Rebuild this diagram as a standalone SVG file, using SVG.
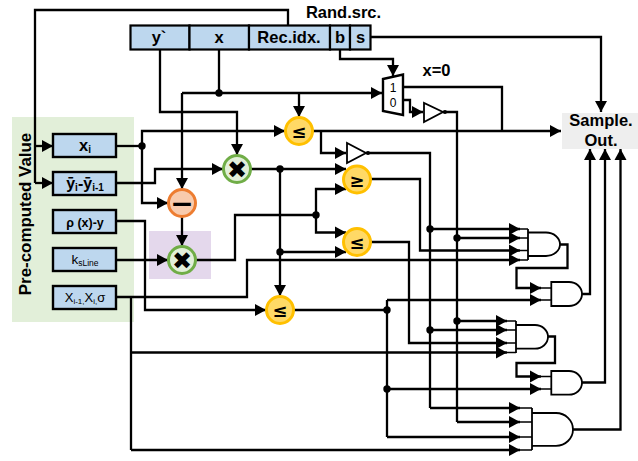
<svg xmlns="http://www.w3.org/2000/svg" width="638" height="461" viewBox="0 0 638 461">
  <style>
    text { font-family: "Liberation Sans", Arial, sans-serif; fill: #000; text-anchor: middle; }
    .b { font-weight: bold; }
    .field { fill: #bdd7ee; stroke: #000; stroke-width: 2.200; }
    .reg { fill: #bdd7ee; stroke: #000; stroke-width: 2.400; }
    .w { fill: none; stroke: #000; stroke-width: 2.300; stroke-linejoin: miter; }
    .a { marker-end: url(#tip); }
    .stub { fill: none; stroke: #000; stroke-width: 1.500; }
    .gate { fill: #fff; stroke: #000; stroke-width: 1.800; }
    .dot { fill: #000; }
    .cmp { fill: #ffd966; stroke: #ffc000; stroke-width: 3; }
    .mul { fill: #e2efd9; stroke: #70ad47; stroke-width: 3; }
    .sub { fill: #f8cbad; stroke: #ed7d31; stroke-width: 3; }
    .op { font-family: "DejaVu Sans", sans-serif; font-weight: bold; }
  </style>
  <defs>
    <marker id="tip" markerUnits="userSpaceOnUse" markerWidth="12" markerHeight="14" refX="11" refY="6.500" orient="auto" overflow="visible">
      <path d="M0,0.500 L11,6.500 L0,12.500 Z" fill="#000"/>
    </marker>
  </defs>

  <!-- Background panels -->
  <rect x="12" y="117" width="122" height="205" fill="#e2efd9"/>
  <rect x="149" y="231" width="62" height="48" fill="#e4d8ec"/>
  <rect x="562" y="113" width="76" height="36" fill="#eeeeee"/>

  <g id="connectors">
    <!-- Record index feed to the pre-computed registers -->
    <path class="w" d="M288,25 V10 H35 V183"/>
    <path class="w a" d="M35,146 H53"/>
    <path class="w a" d="M35,183 H53"/>
    <!-- Sample fields -->
    <path class="w a" d="M160,49 V112 H237 V155"/>
    <path class="w" d="M219,49 V93"/>
    <path class="w a" d="M182,93 H382"/>
    <path class="w a" d="M182,93 V189"/>
    <path class="w a" d="M299,93 V117"/>
    <path class="w a" d="M340,49 V59 H393 V76"/>
    <path class="w a" d="M370,37 H601 V112"/>
    <!-- Register outputs -->
    <path class="w" d="M116,146 H142"/>
    <path class="w a" d="M142,146 V131 H285"/>
    <path class="w a" d="M142,146 V203 H168"/>
    <path class="w a" d="M116,183 H155 V169 H223"/>
    <path class="w a" d="M116,221 H145 V310 H266"/>
    <path class="w a" d="M116,260 H168"/>
    <path class="w a" d="M116,297 H247 V260 H520"/>
    <path class="w" d="M131,297 V450"/>
    <path class="w a" d="M131,352.500 H507"/>
    <path class="w a" d="M131,450 H520"/>
    <!-- Arithmetic chain -->
    <path class="w a" d="M182,217 V246"/>
    <path class="w" d="M196,260 H235 V215 H316"/>
    <path class="w a" d="M316,215 V189 H346"/>
    <path class="w a" d="M316,215 V232.500 H346"/>
    <path class="w a" d="M251,169 H346"/>
    <path class="w a" d="M280,169 V296"/>
    <path class="w a" d="M280,252 H346"/>
    <!-- Comparator outputs -->
    <path class="w a" d="M313,131 H561"/>
    <path class="w a" d="M321,131 V153 H346"/>
    <path class="w" d="M366,153 H430 V408"/>
    <path class="w a" d="M430,408 H520"/>
    <path class="w a" d="M430,229 H520"/>
    <path class="w a" d="M430,330 H507"/>
    <path class="w a" d="M371,179 H420 V250.500 H520"/>
    <path class="w a" d="M371,242 H409 V343 H507"/>
    <path class="w" d="M294,310 H387"/>
    <path class="w a" d="M387,300 H541"/>
    <path class="w" d="M387,300 V437"/>
    <path class="w a" d="M387,389 H541"/>
    <path class="w a" d="M387,437 H520"/>
    <!-- Multiplexer outputs -->
    <path class="w" d="M403,87 H502 V131"/>
    <path class="w a" d="M403,100 H410 V112 H423"/>
    <path class="w" d="M443,112 H457 V422"/>
    <path class="w a" d="M457,422 H520"/>
    <path class="w a" d="M457,238 H520"/>
    <path class="w a" d="M457,321 H507"/>
    <!-- Gate chaining and outputs -->
    <path class="w a" d="M560,244.500 H567.500 V268 H516.500 V288 H541"/>
    <path class="w a" d="M547,336.500 H555 V363 H516.500 V376.500 H541"/>
    <path class="w a" d="M582,294 H590 V149"/>
    <path class="w a" d="M582,382.500 H605 V149"/>
    <path class="w a" d="M573,429.500 H620.500 V149"/>
    <!-- Input stubs on the gates -->
    <path class="stub" d="M520,229 H528 M520,238 H528 M520,250.500 H528 M520,260 H528"/>
    <path class="stub" d="M541,288 H551 M541,300 H551"/>
    <path class="stub" d="M507,321 H516 M507,330 H516 M507,343 H516 M507,352.500 H516"/>
    <path class="stub" d="M541,376.500 H551 M541,389 H551"/>
    <path class="stub" d="M520,408 H532 M520,422 H532 M520,437 H532 M520,450 H532"/>
    <!-- Junctions -->
    <g class="dot">
      <circle cx="219" cy="93" r="3.700"/>
      <circle cx="142" cy="146" r="3.700"/>
      <circle cx="280" cy="169" r="3.700"/>
      <circle cx="316" cy="215" r="3.700"/>
      <circle cx="280" cy="252" r="3.700"/>
      <circle cx="430" cy="229" r="3.700"/>
      <circle cx="457" cy="238" r="3.700"/>
      <circle cx="387" cy="310" r="3.700"/>
      <circle cx="457" cy="321" r="3.700"/>
      <circle cx="430" cy="330" r="3.700"/>
      <circle cx="387" cy="389" r="3.700"/>
    </g>
  </g>

  <!-- Random source word -->
  <g id="source-word">
    <rect class="field" x="130.500" y="25.500" width="59" height="24"/>
    <text class="b" x="159" y="43" font-size="16.500">y`</text>
    <rect class="field" x="189.500" y="25.500" width="59.500" height="24"/>
    <text class="b" x="219" y="43" font-size="16.500">x</text>
    <rect class="field" x="249" y="25.500" width="81" height="24"/>
    <text class="b" x="289" y="43" font-size="16.500">Rec.idx.</text>
    <rect class="field" x="330" y="25.500" width="20" height="24"/>
    <text class="b" x="340" y="43" font-size="16.500">b</text>
    <rect class="field" x="350" y="25.500" width="20.500" height="24"/>
    <text class="b" x="360.500" y="43" font-size="16.500">s</text>
  </g>
  <text class="b" x="343.500" y="17.500" font-size="16.500">Rand.src.</text>
  <text class="b" x="436.500" y="76" font-size="16.500">x=0</text>

  <text class="b" transform="translate(31,214) rotate(-90)" font-size="16.900">Pre-computed Value</text>

  <!-- Pre-computed registers -->
  <g id="reg-xi">
    <rect class="reg" x="53" y="134" width="63" height="23"/>
    <text class="b" x="85" y="151" font-size="16.500">x<tspan font-size="10" dy="2">i</tspan></text>
  </g>
  <g id="reg-dy">
    <rect class="reg" x="53" y="172" width="63" height="23"/>
    <text class="b" x="85" y="189" font-size="16">ȳ<tspan font-size="10" dy="2">i</tspan><tspan dy="-2">-ȳ</tspan><tspan font-size="10" dy="2">i-1</tspan></text>
  </g>
  <g id="reg-rho">
    <rect class="reg" x="53" y="210" width="63" height="23"/>
    <text class="b" x="85" y="227" font-size="12.500">ρ (x)-y</text>
  </g>
  <g id="reg-k">
    <rect class="reg" x="53" y="248" width="63" height="23"/>
    <text x="85" y="264" font-size="13.500">k<tspan font-size="8.500" dy="2">sLine</tspan></text>
  </g>
  <g id="reg-x">
    <rect class="reg" x="53" y="286" width="63" height="23"/>
    <text x="85" y="302" font-size="13">X<tspan font-size="8" dy="2">i-1,</tspan><tspan dy="-2">X</tspan><tspan font-size="8" dy="2">i,</tspan><tspan dy="-2">σ</tspan></text>
  </g>

  <!-- Arithmetic units -->
  <g id="cmp-top"><circle class="cmp" cx="299" cy="131" r="13.500"/><text class="op" x="299" y="138" font-size="18">≤</text></g>
  <g id="mul-x"><circle class="mul" cx="237" cy="169" r="13.500"/><text class="op" x="237" y="178" font-size="24">✖</text></g>
  <g id="sub"><circle class="sub" cx="182" cy="203" r="13.500"/><text class="op" x="182" y="212.500" font-size="28">−</text></g>
  <g id="mul-k"><circle class="mul" cx="182" cy="260" r="13.500"/><text class="op" x="182" y="269" font-size="24">✖</text></g>
  <g id="cmp-ge"><circle class="cmp" cx="357" cy="179.500" r="13.500"/><text class="op" x="357" y="186.500" font-size="18">≥</text></g>
  <g id="cmp-le"><circle class="cmp" cx="357" cy="242" r="13.500"/><text class="op" x="357" y="249" font-size="18">≤</text></g>
  <g id="cmp-bottom"><circle class="cmp" cx="280" cy="310" r="13.500"/><text class="op" x="280" y="317" font-size="18">≤</text></g>

  <!-- Multiplexer -->
  <g id="mux">
    <path d="M383,79 L403,74.500 V115 L383,111 Z" fill="#fff" stroke="#000" stroke-width="2.400"/>
    <text x="393" y="91.500" font-size="12">1</text>
    <text x="393" y="107" font-size="12">0</text>
  </g>

  <!-- Inverters -->
  <g id="buf-a">
    <path class="gate" d="M424,103 V122 L443,112 Z"/>
    <circle class="dot" cx="445" cy="112" r="2"/>
  </g>
  <g id="buf-b">
    <path class="gate" d="M347,143 V163 L366,153 Z"/>
    <circle class="dot" cx="368" cy="153" r="2"/>
  </g>

  <!-- AND gates -->
  <g id="and-1"><path class="gate" d="M528,229 V260 M528,232.500 H546 A14,11.750 0 0 1 546,256 H528"/></g>
  <g id="and-2"><path class="gate" d="M551.300,282 V306 H569 A13,12 0 0 0 569,282 Z"/></g>
  <g id="and-3"><path class="gate" d="M516,321 V353 M516,325 H535 A13,11.850 0 0 1 535,348.700 H516"/></g>
  <g id="and-4"><path class="gate" d="M551.300,371 V394.700 H569 A13,11.850 0 0 0 569,371 Z"/></g>
  <g id="and-5"><path class="gate" d="M532,408 V450 M532,413 H556 A17,16.400 0 0 1 556,445.800 H532"/></g>

  <!-- Sample output -->
  <g id="sample-out">
    <text class="b" x="601" y="126" font-size="16.500">Sample.</text>
    <text class="b" x="601" y="146" font-size="16.500">Out.</text>
  </g>
</svg>
